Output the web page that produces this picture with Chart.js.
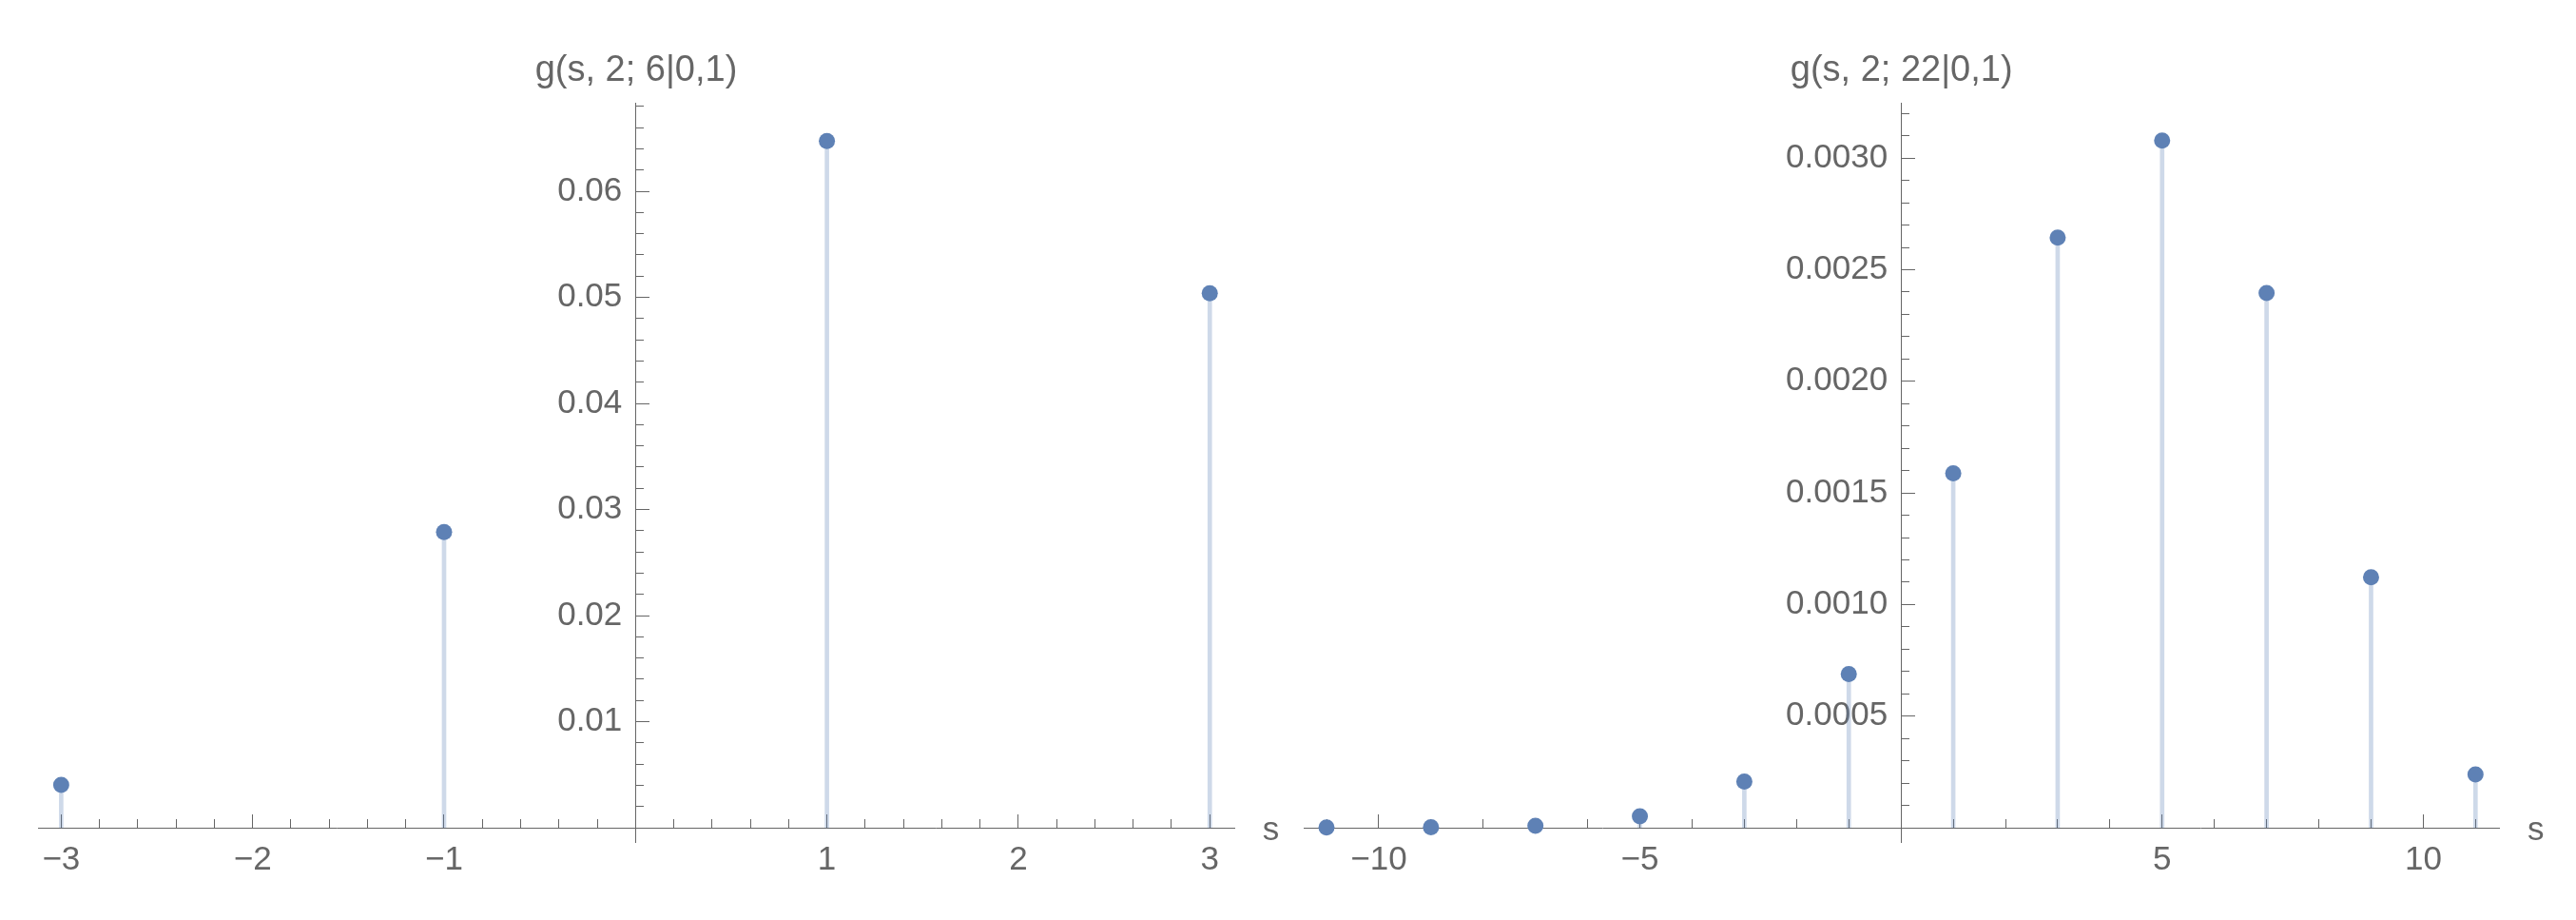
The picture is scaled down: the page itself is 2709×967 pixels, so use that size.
<!DOCTYPE html>
<html>
<head>
<meta charset="utf-8">
<title>g(s, 2; N|0,1)</title>
<script src="https://cdn.jsdelivr.net/npm/chart.js@4.4.1/dist/chart.umd.min.js"></script>
<style>
  html, body { margin: 0; padding: 0; background: #fff; }
  #wrap { position: relative; width: 2709px; height: 967px; }
  canvas { position: absolute; top: 0; }
</style>
</head>
<body>
<div id="wrap">
  <canvas id="left" width="1354" height="967" style="left:0"></canvas>
  <canvas id="right" width="1355" height="967" style="left:1354px"></canvas>
</div>
<script>
// left panel, N = 6
var leftTitle = 'g(s, 2; 6|0,1)';
var leftS = [-3, -1, 1, 3];
var leftG = [0.00404, 0.02787, 0.06473, 0.05038];
var leftXTicks = [-3, -2, -1, 1, 2, 3];
var leftXLabels = ['\u22123', '\u22122', '\u22121', '1', '2', '3'];
var leftYTicks = [0.01, 0.02, 0.03, 0.04, 0.05, 0.06];
var leftYLabels = ['0.01', '0.02', '0.03', '0.04', '0.05', '0.06'];

// right panel, N = 22
var rightTitle = 'g(s, 2; 22|0,1)';
var rightS = [-11, -9, -7, -5, -3, -1, 1, 3, 5, 7, 9, 11];
var rightG = [0.000001, 0.000002, 0.000009, 0.000051, 0.000207, 0.000688,
              0.001588, 0.002644, 0.003079, 0.002396, 0.001122, 0.000239];
var rightXTicks = [-10, -5, 5, 10];
var rightXLabels = ['\u221210', '\u22125', '5', '10'];
var rightYTicks = [0.0005, 0.0010, 0.0015, 0.0020, 0.0025, 0.0030];
var rightYLabels = ['0.0005', '0.0010', '0.0015', '0.0020', '0.0025', '0.0030'];

var grey = '#666666';
var fam = '"Liberation Sans", Arial, sans-serif';
Chart.defaults.font.family = fam;
Chart.defaults.color = grey;

function zeroSize(sc) {
  if (sc.isHorizontal()) sc.height = 0; else sc.width = 0;
}

// axis label "s" to the right of the x axis
var sLabel = {
  id: 'sLabel',
  afterDraw: function (chart) {
    var ctx = chart.ctx;
    ctx.save();
    ctx.font = '35px ' + fam;
    ctx.fillStyle = grey;
    ctx.textAlign = 'center';
    ctx.textBaseline = 'alphabetic';
    ctx.fillText('s', chart.chartArea.right + 38.5, chart.scales.y.getPixelForValue(0) + 13);
    ctx.restore();
  }
};

function stemChart(id, title, s, g, xr, yr, xTicks, xLabels, yTicks, yLabels, xStep, yStep, pad) {
  var pts = s.map(function (v, i) { return {x: v, y: g[i]}; });
  return new Chart(document.getElementById(id), {
    type: 'bar',
    data: {
      datasets: [
        {
          type: 'scatter', data: pts, xAxisID: 'x', yAxisID: 'y',
          pointRadius: 8.5, pointBackgroundColor: '#5e81b5', pointBorderWidth: 0
        },
        {
          type: 'bar', data: pts, xAxisID: 'x', yAxisID: 'y',
          barThickness: 4, backgroundColor: 'rgba(94,129,181,0.3)'
        }
      ]
    },
    options: {
      responsive: false,
      animation: false,
      events: [],
      layout: { padding: pad },
      plugins: {
        legend: { display: false },
        tooltip: { enabled: false },
        title: {
          display: true, text: title, color: grey,
          font: { size: 38, weight: 'normal', lineHeight: 1.2 },
          padding: { top: 52, bottom: 10.4 }
        }
      },
      scales: {
        x: {
          type: 'linear', axis: 'x', min: xr[0], max: xr[1], position: { y: 0 }, z: 1,
          offset: false,
          afterFit: zeroSize,
          afterBuildTicks: function (sc) { sc.ticks = xTicks.map(function (v) { return {value: v}; }); },
          border: { display: true, color: grey, width: 1 },
          grid: { display: true, offset: false, drawOnChartArea: false, drawTicks: true, tickLength: -15, tickColor: grey, tickWidth: 1 },
          ticks: {
            autoSkip: false, maxRotation: 0, padding: 28.5, color: grey, font: { size: 35 },
            callback: function (v, i) { return xLabels[i]; }
          }
        },
        xm: {
          type: 'linear', axis: 'x', min: xr[0], max: xr[1], position: { y: 0 }, z: 1,
          offset: false,
          afterFit: zeroSize,
          border: { display: false },
          grid: { display: true, offset: false, drawOnChartArea: false, drawTicks: true, tickLength: -9, tickColor: grey, tickWidth: 1 },
          ticks: { display: false, stepSize: xStep, includeBounds: false, autoSkip: false, maxTicksLimit: 1000 }
        },
        y: {
          type: 'linear', axis: 'y', min: yr[0], max: yr[1], position: { x: 0 }, z: 1,
          afterFit: zeroSize,
          afterBuildTicks: function (sc) { sc.ticks = yTicks.map(function (v) { return {value: v}; }); },
          border: { display: true, color: grey, width: 1 },
          grid: { display: true, drawOnChartArea: false, drawTicks: true, tickLength: -15, tickColor: grey, tickWidth: 1 },
          ticks: {
            autoSkip: false, color: grey, font: { size: 35 },
            // labels sit right-aligned on the axis line; two thin spaces keep the gap
            callback: function (v, i) { return yLabels[i] + '\u2009\u2009'; }
          }
        },
        ym: {
          type: 'linear', axis: 'y', min: yr[0], max: yr[1], position: { x: 0 }, z: 1,
          afterFit: zeroSize,
          border: { display: false },
          grid: { display: true, drawOnChartArea: false, drawTicks: true, tickLength: -9, tickColor: grey, tickWidth: 1 },
          ticks: { display: false, stepSize: yStep, includeBounds: false, autoSkip: false, maxTicksLimit: 1000 }
        }
      }
    },
    plugins: [sLabel]
  });
}

stemChart('left', leftTitle, leftS, leftG,
  [-3.121, 3.128], [-0.001408, 0.068341],
  leftXTicks, leftXLabels, leftYTicks, leftYLabels, 0.2, 0.002,
  { left: 40, right: 56, top: 0, bottom: 81.3 });

stemChart('right', rightTitle, rightS, rightG,
  [-11.437, 11.455], [-0.0000669, 0.0032481],
  rightXTicks, rightXLabels, rightYTicks, rightYLabels, 1, 0.0001,
  { left: 17, right: 80.7, top: 0, bottom: 81.3 });
</script>
</body>
</html>
